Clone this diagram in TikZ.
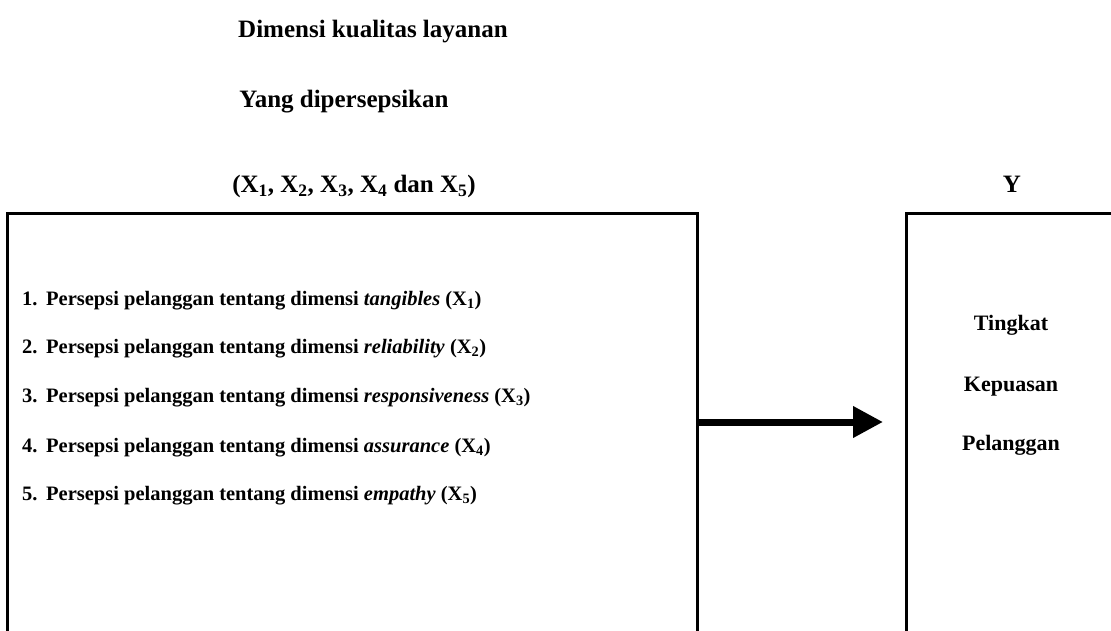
\documentclass[tikz,border=0pt]{standalone}
\usepackage{fontspec}
\setmainfont{Liberation Serif}
\usetikzlibrary{arrows.meta}
\begin{document}
\begin{tikzpicture}[x=1pt,y=-1pt,
  head/.style={font=\bfseries\fontsize{25}{30}\selectfont, anchor=base, inner sep=0pt},
  item/.style={font=\bfseries\fontsize{20.5}{24}\selectfont, anchor=base west, inner sep=0pt},
  side/.style={font=\bfseries\fontsize{22}{26}\selectfont, anchor=base, inner sep=0pt},
  frame/.style={draw, line width=2.8pt, inner sep=0pt, anchor=north west, minimum height=460pt},
  link/.style={line width=7pt, -{Triangle[length=30pt, width=30pt]}}]
\useasboundingbox (0,0) rectangle (1111,631);
\clip (0,0) rectangle (1111,631);

% headings
\node[head] (t1) at (373,38) {Dimensi kualitas layanan};
\node[head] (t2) at (344,108) {Yang dipersepsikan};
\node[head] (t3) at (354,193) {(X\textsubscript{1}, X\textsubscript{2}, X\textsubscript{3}, X\textsubscript{4} dan X\textsubscript{5})};
\node[head] (ty) at (1012,193) {Y};

% boxes, open past the lower edge
\node[frame, minimum width=690pt] (vars) at (6,212) {};
\node[frame, minimum width=260pt] (sat) at (905,212) {};

% service quality dimensions
\node[item] (d1) at (22,305) {\makebox[24pt][l]{1.}Persepsi pelanggan tentang dimensi \textit{tangibles} (X\textsubscript{1})};
\node[item] (d2) at (22,353) {\makebox[24pt][l]{2.}Persepsi pelanggan tentang dimensi \textit{reliability} (X\textsubscript{2})};
\node[item] (d3) at (22,402) {\makebox[24pt][l]{3.}Persepsi pelanggan tentang dimensi \textit{responsiveness} (X\textsubscript{3})};
\node[item] (d4) at (22,452) {\makebox[24pt][l]{4.}Persepsi pelanggan tentang dimensi \textit{assurance} (X\textsubscript{4})};
\node[item] (d5) at (22,500) {\makebox[24pt][l]{5.}Persepsi pelanggan tentang dimensi \textit{empathy} (X\textsubscript{5})};

% customer satisfaction
\node[side] (s1) at (1011,330) {Tingkat};
\node[side] (s2) at (1011,391) {Kepuasan};
\node[side] (s3) at (1011,450) {Pelanggan};

% influence arrow
\draw[link, shorten >=22pt] (vars.east |- 0,422) -- (sat.west |- 0,422);
\end{tikzpicture}
\end{document}
